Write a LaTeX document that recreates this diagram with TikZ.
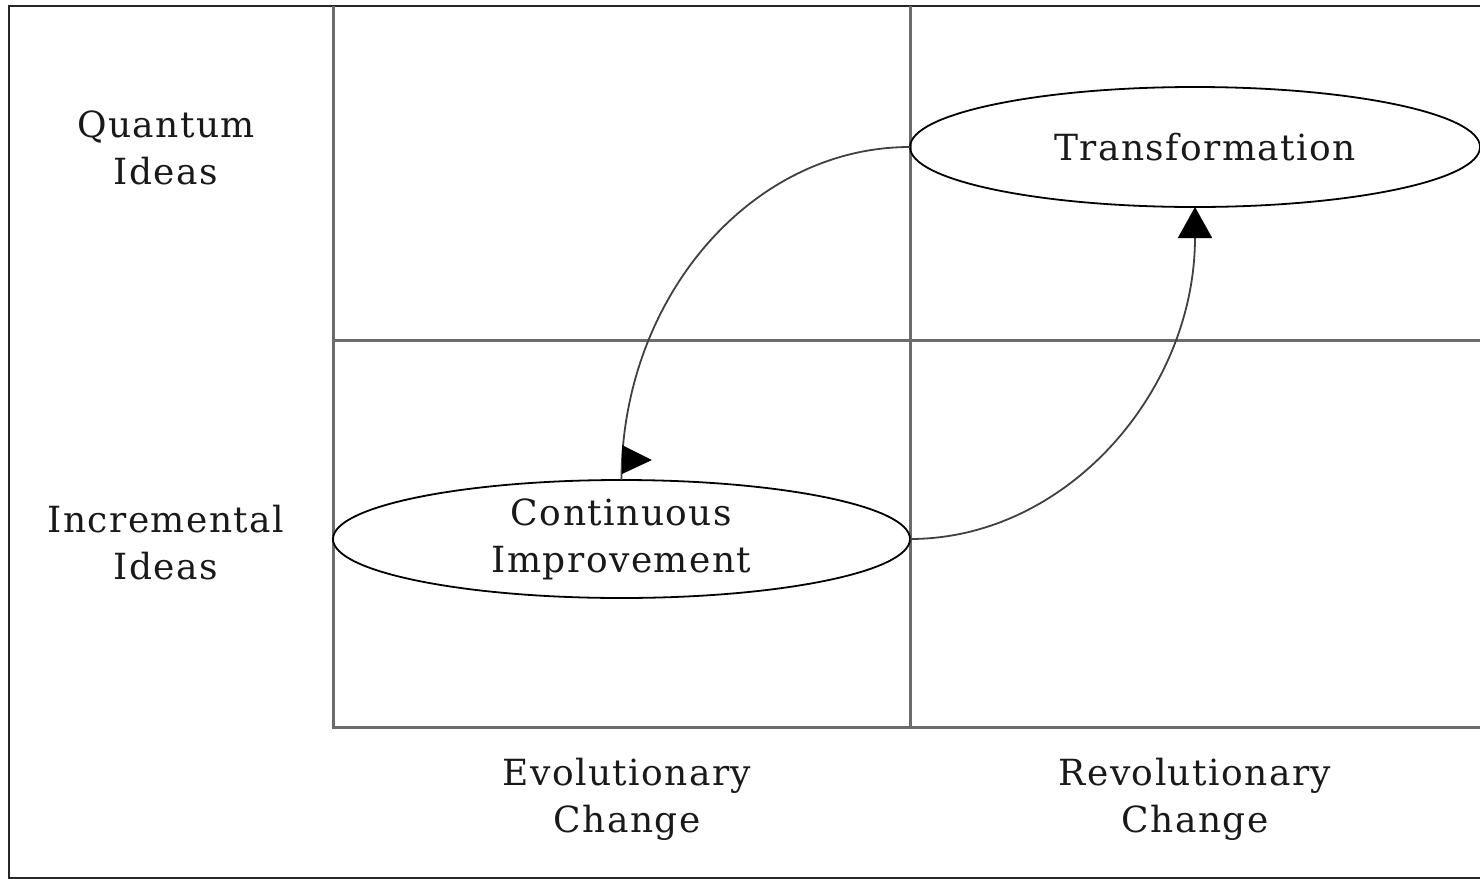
\documentclass[tikz,border=0pt]{standalone}
\usepackage{fontspec}
\setmainfont{DejaVu Serif}[LetterSpace=4]
\usetikzlibrary{arrows.meta,shapes.geometric}
\begin{document}
\begin{tikzpicture}[x=0.5pt,y=-0.5pt,
  lbl/.style={align=center,font=\fontsize{18}{23.5}\selectfont,text=black!90},
  gridline/.style={draw=black!58,line width=1.5pt},
  frameline/.style={draw=black!85,line width=1pt},
  oval/.style={ellipse,draw=black,line width=0.9pt,inner sep=0pt,outer sep=0pt,align=center,font=\fontsize{18}{23.5}\selectfont,text=black!90},
  conn/.style={draw=black!75,line width=0.9pt}
]
\useasboundingbox (0,0) rectangle (1480,879);
% frame
\draw[frameline] (1481,6) -- (9,6) -- (9,877.5) -- (1481,877.5);
% grid
\draw[gridline] (333,6) -- (333,727) -- (1481,727);
\draw[gridline] (910,6) -- (910,727);
\draw[gridline] (333,340) -- (1481,340);
% row / column labels
\node[lbl] (q) at (166,148) {Quantum\\Ideas};
\node[lbl] (inc) at (166,543) {Incremental\\Ideas};
\node[lbl] (evo) at (627,799) {Evolutionary\\Change};
\node[lbl] (rev) at (1195,799) {Revolutionary\\Change};
% ellipses
\node[oval,minimum width=285pt,minimum height=60pt] (T) at (1195,147) {\hspace*{10pt}Transformation};
\node[oval,minimum width=288.5pt,minimum height=59pt,fill=white] (C) at (621.5,539) {Continuous\\Improvement};
% connectors
\draw[conn] (T.west) .. controls +(-159,0) and +(0,-182) .. (C.north);
\fill[black] (622,445) -- (652,460) -- (622,474) -- cycle;
\draw[conn,-{Triangle[width=17pt,length=15.5pt,color=black]}] (C.east) .. controls +(157,0) and +(0,184) .. (T.south);
\end{tikzpicture}
\end{document}
